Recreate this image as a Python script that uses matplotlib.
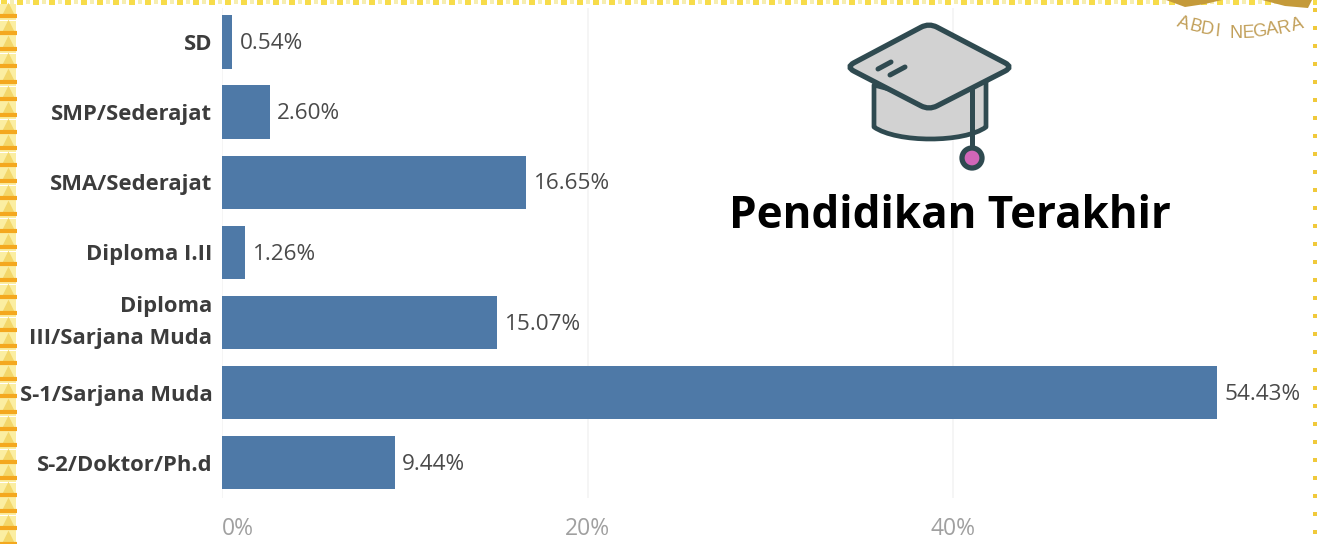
import numpy as np
import matplotlib
matplotlib.use("Agg")
import matplotlib.pyplot as plt
from matplotlib.patches import Polygon, Ellipse, PathPatch
from matplotlib.path import Path

categories = ["SD", "SMP/Sederajat", "SMA/Sederajat", "Diploma I.II",
              "Diploma\nIII/Sarjana Muda", "S-1/Sarjana Muda", "S-2/Doktor/Ph.d"]
values = [0.54, 2.60, 16.65, 1.26, 15.07, 54.43, 9.44]
xticks = [0, 20, 40]
xticklabels = ["0%", "20%", "40%"]
title = "Pendidikan Terakhir"

W, H = 1317, 544
plt.rcParams['font.family'] = ['Open Sans', 'DejaVu Sans']
fig = plt.figure(figsize=(W / 100, H / 100), dpi=100, facecolor="white")

# main axes, positioned in pixels
L, R, T, B = 222, 1310, 8, 498
ax = fig.add_axes([L / W, 1 - B / H, (R - L) / W, (B - T) / H])
ppu = (953 - 222) / 40
step = 70.1
ax.set_xlim(0, (R - L) / ppu)
ax.set_ylim((B - 42) / step, -(42 - T) / step)
y = np.arange(len(categories))
ax.barh(y, values, height=0.76, color="#4e79a7", zorder=3)
for s in ax.spines.values():
    s.set_visible(False)
ax.set_xticks(xticks)
ax.set_xticklabels(xticklabels, color="#a0a0a0", fontsize=16.5)
ax.get_xticklabels()[0].set_ha("left")
ax.tick_params(axis="x", length=0, pad=14)
ax.set_yticks(y)
ax.set_yticklabels(categories, fontweight="bold", color="#3c3c3c", fontsize=15.8, linespacing=1.65)
ax.tick_params(axis="y", length=0, pad=7)
ax.get_yticklabels()[4].set_va("center")
ax.grid(axis="x", color="#f4f4f4", lw=1.2, zorder=0)
for yi, v in zip(y, values):
    ax.text(v + 0.42, yi + 0.025, f"{v:.2f}%", va="center", ha="left", color="#4a4a4a", fontsize=16.2, zorder=4)

# overlay in pixel coordinates for decoration
ov = fig.add_axes([0, 0, 1, 1], facecolor="none")
ov.set_xlim(0, W)
ov.set_ylim(H, 0)
ov.axis("off")

ov.text(950, 217, title, ha="center", va="center", fontsize=31.7, fontweight="bold", color="black")


def rounded(points, r):
    """Closed path through points with corners rounded by radius r."""
    pts = [np.array(p, float) for p in points]
    verts, codes = [], []
    n = len(pts)
    for i, p in enumerate(pts):
        a, b = pts[i - 1], pts[(i + 1) % n]
        p1 = p + (a - p) / np.linalg.norm(a - p) * r
        p2 = p + (b - p) / np.linalg.norm(b - p) * r
        verts += [tuple(p1), tuple(p), tuple(p2)]
        codes += [Path.LINETO if i else Path.MOVETO, Path.CURVE3, Path.CURVE3]
    verts.append(verts[0])
    codes.append(Path.CLOSEPOLY)
    return Path(verts, codes)


# graduation cap icon
dark = "#2f4a50"
grey = "#d2d2d2"
body = Path([(874, 85), (874, 127), (897, 143), (964, 143), (986, 127), (986, 80), (930, 100), (874, 85)],
            [Path.MOVETO, Path.LINETO, Path.CURVE4, Path.CURVE4, Path.CURVE4, Path.LINETO, Path.LINETO, Path.CLOSEPOLY])
ov.add_patch(PathPatch(body, fc=grey, ec=dark, lw=3.4, joinstyle="round"))
ov.add_patch(PathPatch(rounded([(846, 67), (929, 23), (1013, 67), (929, 110)], 9), fc=grey, ec=dark, lw=3.8))
ov.plot([878, 891], [69, 62], color=dark, lw=3.6, solid_capstyle="round")
ov.plot([890, 905], [75, 67], color=dark, lw=3.6, solid_capstyle="round")
ov.plot([972, 972], [90, 148], color=dark, lw=3.6)
ov.add_patch(Ellipse((972, 158), 20, 20, fc="#d166b8", ec=dark, lw=3.8, zorder=4))

# decorative dotted frame
xs = np.arange(4, W, 16)
ov.scatter(xs, np.zeros_like(xs) + 2, s=14, marker="s", color="#f7dc4a", lw=0, zorder=5)
ov.scatter(xs + 8, np.zeros_like(xs) + 2, s=10, marker="s", color="#f6eeb0", lw=0, zorder=5)
ys = np.arange(8, H, 16.5)
ov.scatter(np.full_like(ys, 7.5), ys + 4, s=130, marker="s", color="#fbeea2", lw=0, zorder=5)
ov.scatter(np.full_like(ys, 7.5), ys, s=70, marker="^", color="#f3d76a", lw=0, zorder=5)
ov.scatter(np.full_like(ys, 7.5), ys + 8, s=170, marker="_", color="#f4a81f", linewidths=3, zorder=5)
ys2 = np.arange(10, H, 18)
ov.scatter(np.full_like(ys2, 1315), ys2, s=10, marker="s", color="#f0c93a", lw=0, zorder=5)

# logo fragment
gold = "#c49a3a"
ov.add_patch(Polygon([(1166, 0), (1222, 0), (1205, 4), (1185, 7)], closed=True, fc=gold, ec="none", zorder=6))
ov.add_patch(Polygon([(1262, 0), (1312, 0), (1308, 8), (1285, 6)], closed=True, fc=gold, ec="none", zorder=6))
letters = "ABDI NEGARA"
lx = [1183, 1195, 1207, 1217, 1225, 1236, 1248, 1260, 1272, 1284, 1297]
ly = [24, 27, 30, 32, 33, 33, 33, 32, 30, 28, 25]
rot = [-18, -14, -10, -6, 0, 0, 3, 6, 9, 12, 16]
for c, px, py, r in zip(letters, lx, ly, rot):
    ov.text(px, py, c, ha="center", va="center", rotation=r, fontsize=13, color="#c2a05a", family="Liberation Sans")

fig.savefig("out.png", dpi=100)
